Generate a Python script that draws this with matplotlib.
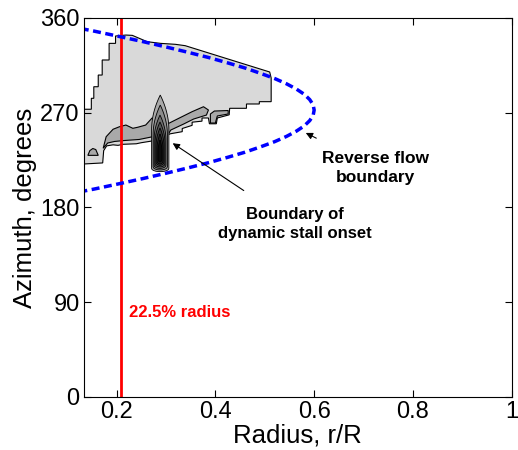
import numpy as np
import matplotlib.pyplot as plt
from matplotlib.patches import Polygon

plt.rcParams['font.family'] = ['Liberation Sans', 'DejaVu Sans']

# reverse flow boundary (r/R, azimuth)
rf_psi = [192.5, 197.5, 202.5, 207.5, 212.5, 217.5, 222.5, 227.5, 232.5, 237.5, 242.5,
          247.5, 252.5, 257.5, 262.5, 267.5, 272.5, 277.5, 282.5, 287.5, 292.5, 297.5,
          302.5, 307.5, 312.5, 317.5, 322.5, 327.5, 332.5, 337.5, 342.5, 347.5, 352.5]
rf_r = [0.10, 0.155, 0.205, 0.254, 0.30, 0.344, 0.386, 0.424, 0.46, 0.491, 0.52,
        0.544, 0.564, 0.58, 0.591, 0.598, 0.60, 0.598, 0.591, 0.58, 0.564, 0.544,
        0.52, 0.491, 0.46, 0.424, 0.386, 0.344, 0.30, 0.254, 0.205, 0.155, 0.10]

# outer (lowest) contour of the stall region
outer_r = [0.134, 0.149, 0.149, 0.154, 0.154, 0.163, 0.163, 0.171, 0.171, 0.185, 0.185,
           0.198, 0.198, 0.219, 0.232, 0.262, 0.289, 0.319, 0.339, 0.510, 0.513, 0.513,
           0.489, 0.489, 0.463, 0.463, 0.429, 0.428, 0.404, 0.402, 0.388, 0.386, 0.373,
           0.373, 0.353, 0.353, 0.333, 0.333, 0.309, 0.270, 0.250, 0.240, 0.213, 0.203,
           0.193, 0.180, 0.174, 0.172, 0.134]
outer_psi = [273.3, 273.3, 283.7, 283.7, 294.7, 294.7, 305.8, 305.8, 320.1, 320.1, 335.9,
             335.9, 342.9, 343.8, 343.5, 337.5, 335.9, 335.0, 333.7, 308.7, 303.0, 280.5,
             280.5, 278.3, 278.3, 274.2, 274.2, 268.0, 265.0, 259.5, 259.5, 265.0, 265.0,
             262.0, 261.0, 258.0, 255.0, 252.0, 250.0, 243.0, 241.5, 240.5, 240.0, 239.0,
             239.5, 238.5, 234.0, 222.3, 221.3]

# second contour level (band)
band_r = [0.173, 0.179, 0.193, 0.206, 0.219, 0.233, 0.243, 0.259, 0.272, 0.306, 0.326,
          0.353, 0.376, 0.386, 0.382, 0.356, 0.336, 0.310, 0.306, 0.270, 0.246, 0.216,
          0.196, 0.182]
band_psi = [236.2, 247.2, 254.3, 256.7, 258.3, 255.2, 256.2, 258.3, 265.0, 260.0, 264.7,
            271.0, 275.7, 272.6, 267.8, 264.0, 259.3, 253.6, 250.7, 246.9, 244.6, 243.6,
            242.7, 241.2]

tab_r = [0.390, 0.390, 0.398, 0.426, 0.426, 0.404, 0.400]
tab_psi = [260.2, 268.8, 271.6, 272.1, 268.8, 266.9, 260.2]

mound_r = [0.142, 0.146, 0.152, 0.158, 0.163]
mound_psi = [229.5, 234.0, 236.0, 235.0, 229.5]

# spike contours: left r, right r, apex, shoulder, bottom azimuth
spike_left = [0.271, 0.274, 0.276, 0.278, 0.280, 0.282, 0.284]
spike_right = [0.306, 0.303, 0.300, 0.298, 0.296, 0.294, 0.292]
spike_apex = [286.8, 277.3, 267.8, 261.2, 255.5, 249.8, 244.1]
spike_shoulder = [253.6, 248.8, 244.1, 241.2, 238.4, 235.6, 232.7]
spike_bottom = [214.0, 215.6, 217.1, 218.5, 220.0, 221.3, 223.2]
spike_grey = ['#a9a9a9', '#8c8c8c', '#707070', '#555555', '#3c3c3c', '#252525', '#0d0d0d']


def bullet(l, r, apex, sh, bot):
    c = (l + r) / 2
    w = (r - l) / 2
    t = np.linspace(0, 1, 15)
    up_x = np.concatenate([c - w * (1 - t ** 2), c + w * (1 - t[::-1] ** 2)])
    up_y = np.concatenate([sh + (apex - sh) * t, sh + (apex - sh) * t[::-1]])
    a = np.linspace(0, np.pi, 10)
    lo_x = c + w * np.cos(a)
    lo_y = bot + 3 - 3 * np.sin(a)
    xs = np.concatenate([[l], up_x, [r], lo_x])
    ys = np.concatenate([[bot + 3], up_y, [bot + 3], lo_y])
    return np.column_stack([xs, ys])


fig = plt.figure(figsize=(5.18, 4.5), dpi=100)
ax = fig.add_axes([0.162, 0.118, 0.826, 0.842])

ax.add_patch(Polygon(np.column_stack([outer_r, outer_psi]), closed=True,
                     fc='#d9d9d9', ec='k', lw=0.8))
ax.add_patch(Polygon(np.column_stack([band_r, band_psi]), closed=True,
                     fc='#a9a9a9', ec='k', lw=0.8))
ax.add_patch(Polygon(np.column_stack([tab_r, tab_psi]), closed=True,
                     fc='#a9a9a9', ec='k', lw=0.8))
ax.add_patch(Polygon(np.column_stack([mound_r, mound_psi]), closed=True,
                     fc='#a9a9a9', ec='k', lw=0.8))
for i in range(len(spike_left)):
    ax.add_patch(Polygon(bullet(spike_left[i], spike_right[i], spike_apex[i],
                                spike_shoulder[i], spike_bottom[i]),
                         closed=True, fc=spike_grey[i], ec='k', lw=0.6))

ax.axvline(0.209, color='red', lw=2)
ax.plot(rf_r, rf_psi, color='blue', ls=(0, (2.3, 1.3)), lw=2.5)

ax.text(0.226, 80, '22.5% radius', color='red', fontsize=12, fontweight='bold',
        va='center')
ax.annotate('Reverse flow\nboundary', xy=(0.578, 252), xytext=(0.725, 217.5),
            fontsize=12.5, fontweight='bold', ha='center', va='center', linespacing=1.35,
            arrowprops=dict(arrowstyle='-|>', color='k', lw=0.8, mutation_scale=10,
                            shrinkA=16))
ax.annotate('Boundary of\ndynamic stall onset', xy=(0.309, 242.5), xytext=(0.56, 164),
            fontsize=12, fontweight='bold', ha='center', va='center', linespacing=1.35,
            arrowprops=dict(arrowstyle='-|>', color='k', lw=0.8, mutation_scale=10,
                            shrinkA=18))

ax.set_xlim(0.134, 1.0)
ax.set_ylim(0, 360)
ax.set_xticks([0.2, 0.4, 0.6, 0.8, 1.0])
ax.set_xticklabels(['0.2', '0.4', '0.6', '0.8', '1'])
ax.set_yticks([0, 90, 180, 270, 360])
ax.tick_params(direction='in', top=True, right=True, labelsize=17, length=5, pad=3)
ax.set_xlabel('Radius, r/R', fontsize=18.5, labelpad=0)
ax.set_ylabel('Azimuth, degrees', fontsize=18.5, labelpad=2)

fig.savefig('out.png', dpi=100)
